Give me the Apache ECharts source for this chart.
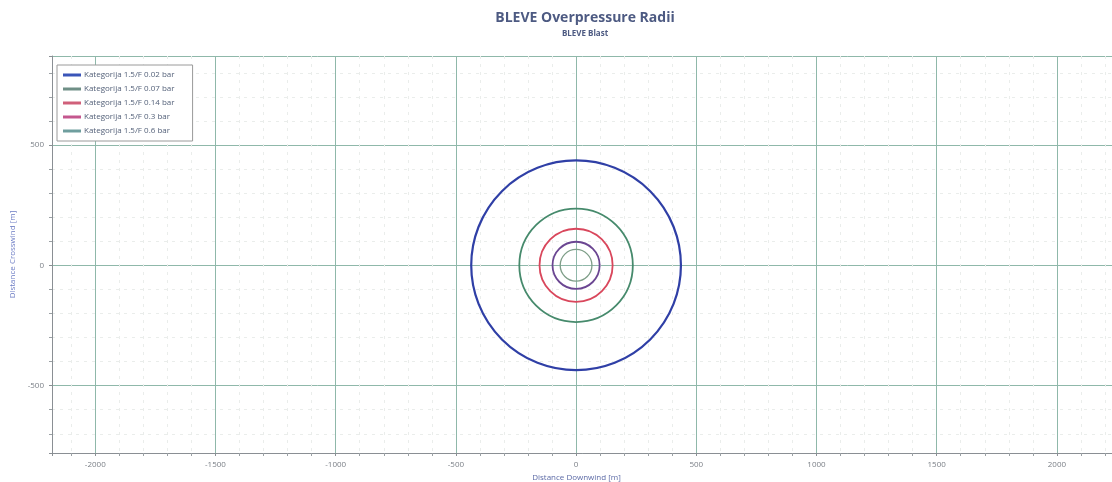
<!DOCTYPE html>
<html>
<head>
<meta charset="utf-8">
<script src="https://cdn.jsdelivr.net/npm/echarts@6/dist/echarts.min.js"></script>
<style>
  html, body { margin: 0; padding: 0; background: #fff; }
  #chart { width: 1112px; height: 482px; }
</style>
</head>
<body>
<div id="chart"></div>
<script>
// overpressure levels and the radius (m)
var seriesNames = [
    'Kategorija 1.5/F 0.02 bar',
    'Kategorija 1.5/F 0.07 bar',
    'Kategorija 1.5/F 0.14 bar',
    'Kategorija 1.5/F 0.3 bar',
    'Kategorija 1.5/F 0.6 bar'
];
var radii = [436, 236, 152, 98, 66];
var centerX = [0, 0, 0, 0, 0];
var centerY = [0, 0, 0, 0, 0];

// styles
var plotColors = ['#2f3fa6', '#468a6c', '#d9475c', '#6b4692', '#7e9e88'];
var legendColors = ['#3a55b8', '#6f8f86', '#d0607a', '#c4578e', '#6f9e9e'];
var lineWidths = [2.2, 1.8, 1.8, 1.8, 1.3];

var myChart = echarts.init(document.getElementById('chart'));

function circleRenderer(idx) {
    return function(params, api) {
        var c = api.coord([api.value(0), api.value(1)]);
        var s = api.size([api.value(2), api.value(2)]);
        return {
            type: 'circle',
            shape: { cx: c[0], cy: c[1], r: (s[0] + s[1]) / 2 },
            style: {
                fill: 'none',
                stroke: plotColors[idx],
                lineWidth: lineWidths[idx]
            }
        };
    };
}

var seriesArr = [];
seriesNames.forEach(function(name, i) {
    seriesArr.push({
        name: name,
        type: 'custom',
        coordinateSystem: 'cartesian2d',
        itemStyle: { color: legendColors[i] },
        encode: { x: 0, y: 1 },
        renderItem: circleRenderer(i),
        silent: true,
        data: [[centerX[i], centerY[i], radii[i]]]
    });
});

var labelColor = '#7a7f86';

// only the 500 m steps get a label
function majorOnly(v) {
    return (Math.round(v) % 500 === 0) ? String(Math.round(v)) : '';
}

var option = {
    backgroundColor: '#ffffff',
    animation: false,
    title: {
        text: 'BLEVE Overpressure Radii',
        subtext: 'BLEVE Blast',
        left: 580,
        top: 6,
        textAlign: 'center',
        itemGap: 5,
        textStyle: {
            fontFamily: 'Open Sans',
            fontSize: 14,
            fontWeight: 'bold',
            color: '#4d5a82'
        },
        subtextStyle: {
            fontFamily: 'Open Sans',
            fontSize: 8,
            fontWeight: 'bold',
            color: '#4d5a82'
        }
    },
    legend: {
        orient: 'vertical',
        left: 57,
        top: 65,
        padding: [6, 18, 6, 6],
        itemGap: 6,
        itemWidth: 18,
        itemHeight: 3,
        icon: 'rect',
        backgroundColor: '#ffffff',
        borderColor: '#9a9a9a',
        borderWidth: 1,
        borderRadius: 0,
        textStyle: {
            fontFamily: 'Open Sans',
            fontSize: 8,
            color: '#55627a',
            padding: [0, 0, 0, -2]
        },
        data: seriesNames.map(function(n, i) {
            return { name: n, itemStyle: { color: legendColors[i] } };
        })
    },
    grid: {
        left: 52,
        right: -17,
        top: 56,
        bottom: 29,
        containLabel: false,
        outerBoundsMode: 'none',
        show: false
    },
    xAxis: {
        type: 'value',
        min: -2180,
        max: 2300,
        minInterval: 500,
        maxInterval: 500,
        name: 'Distance Downwind [m]',
        nameLocation: 'middle',
        nameGap: 20,
        nameTextStyle: {
            fontFamily: 'Open Sans',
            fontSize: 8,
            color: '#5c6aa6',
            padding: [0, 28, 0, 0]
        },
        axisLine: { onZero: false, lineStyle: { color: '#8a8f94', width: 1 } },
        axisTick: { show: true, length: 3, lineStyle: { color: '#8a8f94' } },
        minorTick: { show: true, splitNumber: 5, length: 3, lineStyle: { color: '#9aa0a4' } },
        axisLabel: {
            fontFamily: 'Open Sans',
            fontSize: 8,
            color: labelColor,
            margin: 8,
            formatter: majorOnly
        },
        splitLine: { show: true, lineStyle: { color: '#8fb8aa', width: 1 } },
        minorSplitLine: { show: true, lineStyle: { color: '#eaedeb', type: [3, 5], width: 1 } }
    },
    yAxis: {
        type: 'value',
        min: -780,
        max: 870,
        minInterval: 500,
        maxInterval: 500,
        name: 'Distance Crosswind [m]',
        nameLocation: 'middle',
        nameGap: 28,
        nameTextStyle: {
            fontFamily: 'Open Sans',
            fontSize: 8,
            color: '#6c7cc4'
        },
        axisLine: { onZero: false, lineStyle: { color: '#8a8f94', width: 1 } },
        axisTick: { show: true, length: 3, lineStyle: { color: '#8a8f94' } },
        minorTick: { show: true, splitNumber: 5, length: 3, lineStyle: { color: '#9aa0a4' } },
        axisLabel: {
            fontFamily: 'Open Sans',
            fontSize: 8,
            color: labelColor,
            margin: 8,
            formatter: majorOnly
        },
        splitLine: { show: true, lineStyle: { color: '#8fb8aa', width: 1 } },
        minorSplitLine: { show: true, lineStyle: { color: '#eaedeb', type: [3, 5], width: 1 } }
    },
    series: seriesArr
};

myChart.setOption(option);
</script>
</body>
</html>
